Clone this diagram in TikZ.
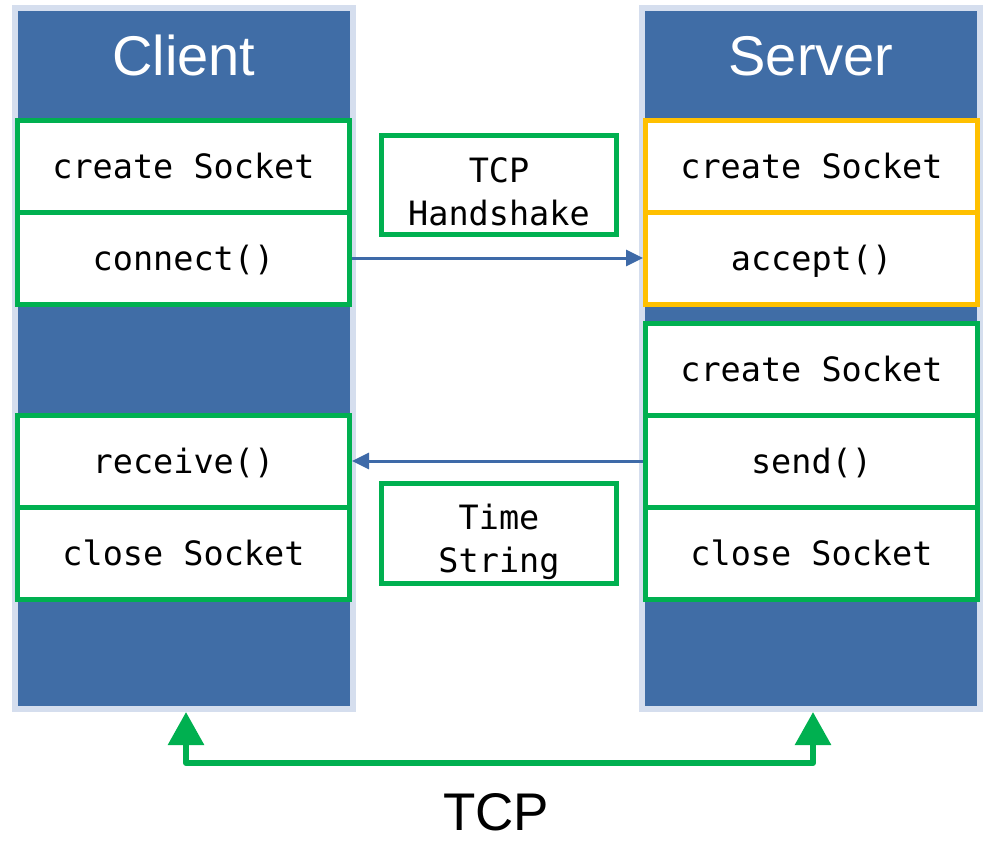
\documentclass[tikz,border=0pt]{standalone}
\usepackage{fontspec}
\setmainfont{Liberation Sans}
\newfontfamily\monof{DejaVu Sans Mono}
\usetikzlibrary{arrows.meta}
\definecolor{colblue}{RGB}{64,109,166}
\definecolor{colborder}{RGB}{213,222,238}
\definecolor{boxgreen}{RGB}{0,176,80}
\definecolor{boxorange}{RGB}{255,192,0}
\definecolor{arrowblue}{RGB}{62,106,168}
\begin{document}
\begin{tikzpicture}[x=1pt,y=-1pt,
  column/.style={draw=colborder, line width=6pt, fill=colblue, minimum width=338pt, minimum height=701pt, inner sep=0pt},
  title/.style={text=white, font=\fontsize{56}{60}\selectfont, anchor=base},
  stepbox/.style={draw=boxgreen, line width=5pt, fill=white, minimum width=332pt, minimum height=92pt, inner sep=0pt, font=\monof\fontsize{33.5}{40}\selectfont, text height=24pt, text depth=0pt},
  orangebox/.style={stepbox, draw=boxorange},
  msgbox/.style={draw=boxgreen, line width=5pt, fill=white, minimum width=235pt, inner sep=0pt},
  msgtext/.style={align=center, inner sep=0pt, font=\monof\fontsize{33.5}{43}\selectfont},
  msgarrow/.style={draw=arrowblue, line width=3pt, -{Triangle[length=17pt,width=16pt]}},
  tcparrow/.style={draw=boxgreen, line width=6pt, line join=round, {Triangle[length=33pt,width=35pt]}-{Triangle[length=33pt,width=35pt]}},
  biglabel/.style={font=\fontsize{53}{60}\selectfont, anchor=base}
]
\useasboundingbox (0,0) rectangle (993,849);

% columns
\node[column] (clientcol) at (184,358.5) {};
\node[column] (servercol) at (811,358.5) {};
\node[title] (clienttitle) at (184,75) {Client};
\node[title] (servertitle) at (811,75) {Server};

% client steps
\node[stepbox] (ccreate) at (183.5,166) {create Socket};
\node[stepbox] (cconnect) at (183.5,258) {connect()};
\node[stepbox] (creceive) at (183.5,461) {receive()};
\node[stepbox] (cclose) at (183.5,553) {close Socket};

% server steps
\node[orangebox] (screate) at (811.5,166) {create Socket};
\node[orangebox] (saccept) at (811.5,258) {accept()};
\node[stepbox] (screate2) at (811.5,369) {create Socket};
\node[stepbox] (ssend) at (811.5,461) {send()};
\node[stepbox] (sclose) at (811.5,553) {close Socket};

% message boxes
\node[msgbox, minimum height=99pt] (handshake) at (499,185) {};
\node[msgtext] (handshaketext) at (499,192) {TCP\\Handshake};
\node[msgbox, minimum height=100pt] (timestr) at (499,533.5) {};
\node[msgtext] (timestrtext) at (499,542) {Time\\String};

% message arrows
\draw[msgarrow] (cconnect.east) -- (saccept.west);
\draw[msgarrow] (ssend.west) -- (creceive.east);

% TCP connection
\draw[tcparrow] ([xshift=2pt]clientcol.south) -- ++(0,51) -| ([xshift=2pt]servercol.south);
\node[biglabel] (tcplabel) at (496,830) {TCP};
\end{tikzpicture}
\end{document}
